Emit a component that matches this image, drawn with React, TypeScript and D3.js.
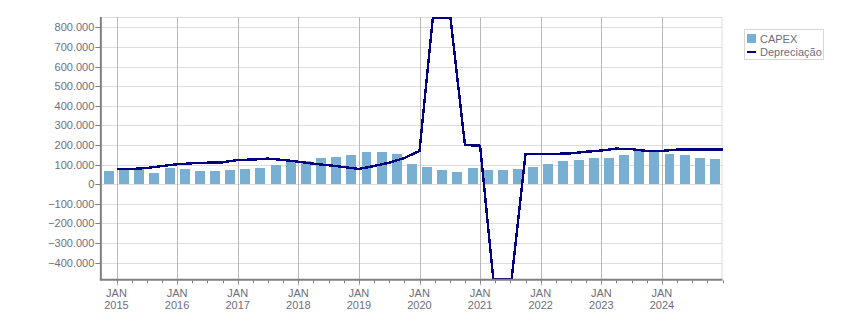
import React from "react";
import * as d3 from "d3";

// Quarterly categories (one bar per quarter)
const quarters = [
  "2014-T4",
  "2015-T1", "2015-T2", "2015-T3", "2015-T4",
  "2016-T1", "2016-T2", "2016-T3", "2016-T4",
  "2017-T1", "2017-T2", "2017-T3", "2017-T4",
  "2018-T1", "2018-T2", "2018-T3", "2018-T4",
  "2019-T1", "2019-T2", "2019-T3", "2019-T4",
  "2020-T1", "2020-T2", "2020-T3", "2020-T4",
  "2021-T1", "2021-T2", "2021-T3", "2021-T4",
  "2022-T1", "2022-T2", "2022-T3", "2022-T4",
  "2023-T1", "2023-T2", "2023-T3", "2023-T4",
  "2024-T1", "2024-T2", "2024-T3", "2024-T4",
];

const capex = [
  68000, 76000, 76000, 58000, 83000, 78000, 68000, 68000, 73000, 78000,
  83000, 98000, 114000, 119000, 134000, 139000, 149000, 165000, 165000, 155000,
  104000, 88000, 73000, 63000, 83000, 73000, 73000, 78000, 88000, 104000,
  119000, 124000, 134000, 134000, 149000, 170000, 165000, 155000, 149000, 134000,
  129000,
];

// Depreciação, measured at the end of each quarter
const depreciacao = [
  78000, 78000, 83000, 93000, 102000, 107000, 110000, 112000, 124000, 126000,
  131000, 124000, 115000, 105000, 97000, 88000, 78000, 93000, 110000, 134000,
  170000, 945000, 880000, 200000, 197000, -585000, -540000, 155000, 155000, 155000,
  158000, 166000, 172000, 182000, 179000, 170000, 170000, 177000, 177000, 177000,
  177000,
];

const yTicks = [-400000, -300000, -200000, -100000, 0, 100000, 200000, 300000, 400000, 500000, 600000, 700000, 800000];
const yearLabels = ["2015", "2016", "2017", "2018", "2019", "2020", "2021", "2022", "2023", "2024"];
const monthLabel = "JAN";
const seriesNames = ["CAPEX", "Depreciação"];

const W = 851;
const H = 313;
const plotLeft = 101.35;
const plotRight = 722.5;
const plotTop = 17;
const plotBottom = 279.3;

const barColor = "#78afd2";
const lineColor = "#000080";
const textColor = "#6e6e7e";
const font = "'Liberation Sans', Arial, sans-serif";

const locale = d3.formatLocale({ decimal: ",", thousands: ".", grouping: [3], currency: ["", ""] });
const fmt = locale.format(",d");

// Clip a polyline vertically to [top, bottom], keeping clamped flat segments on the boundary
function clampPolyline(pts: [number, number][], top: number, bottom: number): [number, number][] {
  const out: [number, number][] = [];
  for (let i = 0; i < pts.length; i++) {
    const p = pts[i];
    if (i > 0) {
      const q = pts[i - 1];
      const bounds = [top, bottom];
      const crossings: [number, number][] = [];
      for (const b of bounds) {
        if ((q[1] - b) * (p[1] - b) < 0) {
          const t = (b - q[1]) / (p[1] - q[1]);
          crossings.push([q[0] + t * (p[0] - q[0]), b]);
        }
      }
      crossings.sort((a, c) => a[0] - c[0]);
      out.push(...crossings);
    }
    out.push([p[0], Math.max(top, Math.min(bottom, p[1]))]);
  }
  return out;
}

export default function App() {
  const x = d3.scaleLinear().domain([0, quarters.length]).range([plotLeft, plotRight]);
  const y = d3.scaleLinear().domain([-485000, 853500]).range([plotBottom, plotTop]);

  const rawPts: [number, number][] = depreciacao.map((d, i) => [x(i + 1), y(d)]);
  const pts = clampPolyline(rawPts, plotTop + 1, plotBottom - 0.5);
  const lineGen = d3.line<[number, number]>();

  const barPad = 2.6;
  const boundaries = d3.range(1, quarters.length + 1);

  return (
    <svg width={W} height={H} style={{ position: "absolute", left: 0, top: 0, background: "#fff" }} fontFamily={font}>
      {/* horizontal gridlines */}
      {yTicks.map((t) => (
        <line key={"h" + t} x1={plotLeft} x2={plotRight} y1={Math.round(y(t)) + 0.5} y2={Math.round(y(t)) + 0.5} stroke="#dddddd" strokeWidth={1} />
      ))}
      <line x1={plotLeft} x2={plotRight} y1={plotTop + 0.5} y2={plotTop + 0.5} stroke="#dddddd" strokeWidth={1} />
      <line x1={plotRight - 0.5} x2={plotRight - 0.5} y1={plotTop} y2={plotBottom} stroke="#dddddd" strokeWidth={1} />

      {/* vertical gridlines at January */}
      {yearLabels.map((yr, k) => {
        const xv = Math.round(x(1 + 4 * k)) + 0.5;
        return <line key={"v" + yr} x1={xv} x2={xv} y1={plotTop} y2={plotBottom + 6} stroke="#b8b8b8" strokeWidth={1} />;
      })}

      {/* bars */}
      {capex.map((v, i) => (
        <rect
          key={"b" + i}
          x={x(i) + barPad}
          width={x(i + 1) - x(i) - 2 * barPad}
          y={Math.min(y(v), y(0))}
          height={Math.abs(y(v) - y(0))}
          fill={barColor}
          shapeRendering="crispEdges"
        />
      ))}

      {/* line */}
      <path d={lineGen(pts) || ""} fill="none" stroke={lineColor} strokeWidth={2.4} shapeRendering="crispEdges" strokeLinejoin="round" />

      {/* axes */}
      <line x1={plotLeft - 0.5} x2={plotLeft - 0.5} y1={plotTop} y2={plotBottom + 1} stroke="#808080" strokeWidth={2} />
      <line x1={plotLeft - 1.5} x2={plotRight} y1={plotBottom + 0.5} y2={plotBottom + 0.5} stroke="#808080" strokeWidth={2} />

      {/* y ticks and labels */}
      {yTicks.map((t) => {
        const yy = Math.round(y(t)) + 0.5;
        return (
          <g key={"yt" + t}>
            <line x1={plotLeft - 6} x2={plotLeft - 1} y1={yy} y2={yy} stroke="#808080" strokeWidth={1} />
            <text x={plotLeft - 7} y={yy + 3.8} textAnchor="end" fontSize={11} fill={textColor}>
              {fmt(t)}
            </text>
          </g>
        );
      })}

      {/* x minor ticks */}
      {boundaries.map((b) => {
        const xv = Math.round(x(b)) + 0.5;
        return <line key={"xt" + b} x1={xv} x2={xv} y1={plotBottom + 1} y2={plotBottom + 4} stroke="#808080" strokeWidth={1} />;
      })}

      {/* x labels */}
      {yearLabels.map((yr, k) => {
        const xv = x(1 + 4 * k);
        return (
          <g key={"xl" + yr}>
            <text x={xv} y={297} textAnchor="middle" fontSize={11} fill={textColor}>
              {monthLabel}
            </text>
            <text x={xv} y={309} textAnchor="middle" fontSize={11} fill={textColor}>
              {yr}
            </text>
          </g>
        );
      })}

      {/* legend */}
      <rect x={744.5} y={29.5} width={79} height={30} fill="#fff" stroke="#d6d6d6" strokeWidth={1} />
      <rect x={747} y={34} width={9} height={9} fill={barColor} />
      <text x={760} y={42.5} fontSize={11} fill={textColor}>
        {seriesNames[0]}
      </text>
      <line x1={747} x2={756} y1={52} y2={52} stroke={lineColor} strokeWidth={2} />
      <text x={760} y={56} fontSize={11} fill={textColor}>
        {seriesNames[1]}
      </text>
    </svg>
  );
}
